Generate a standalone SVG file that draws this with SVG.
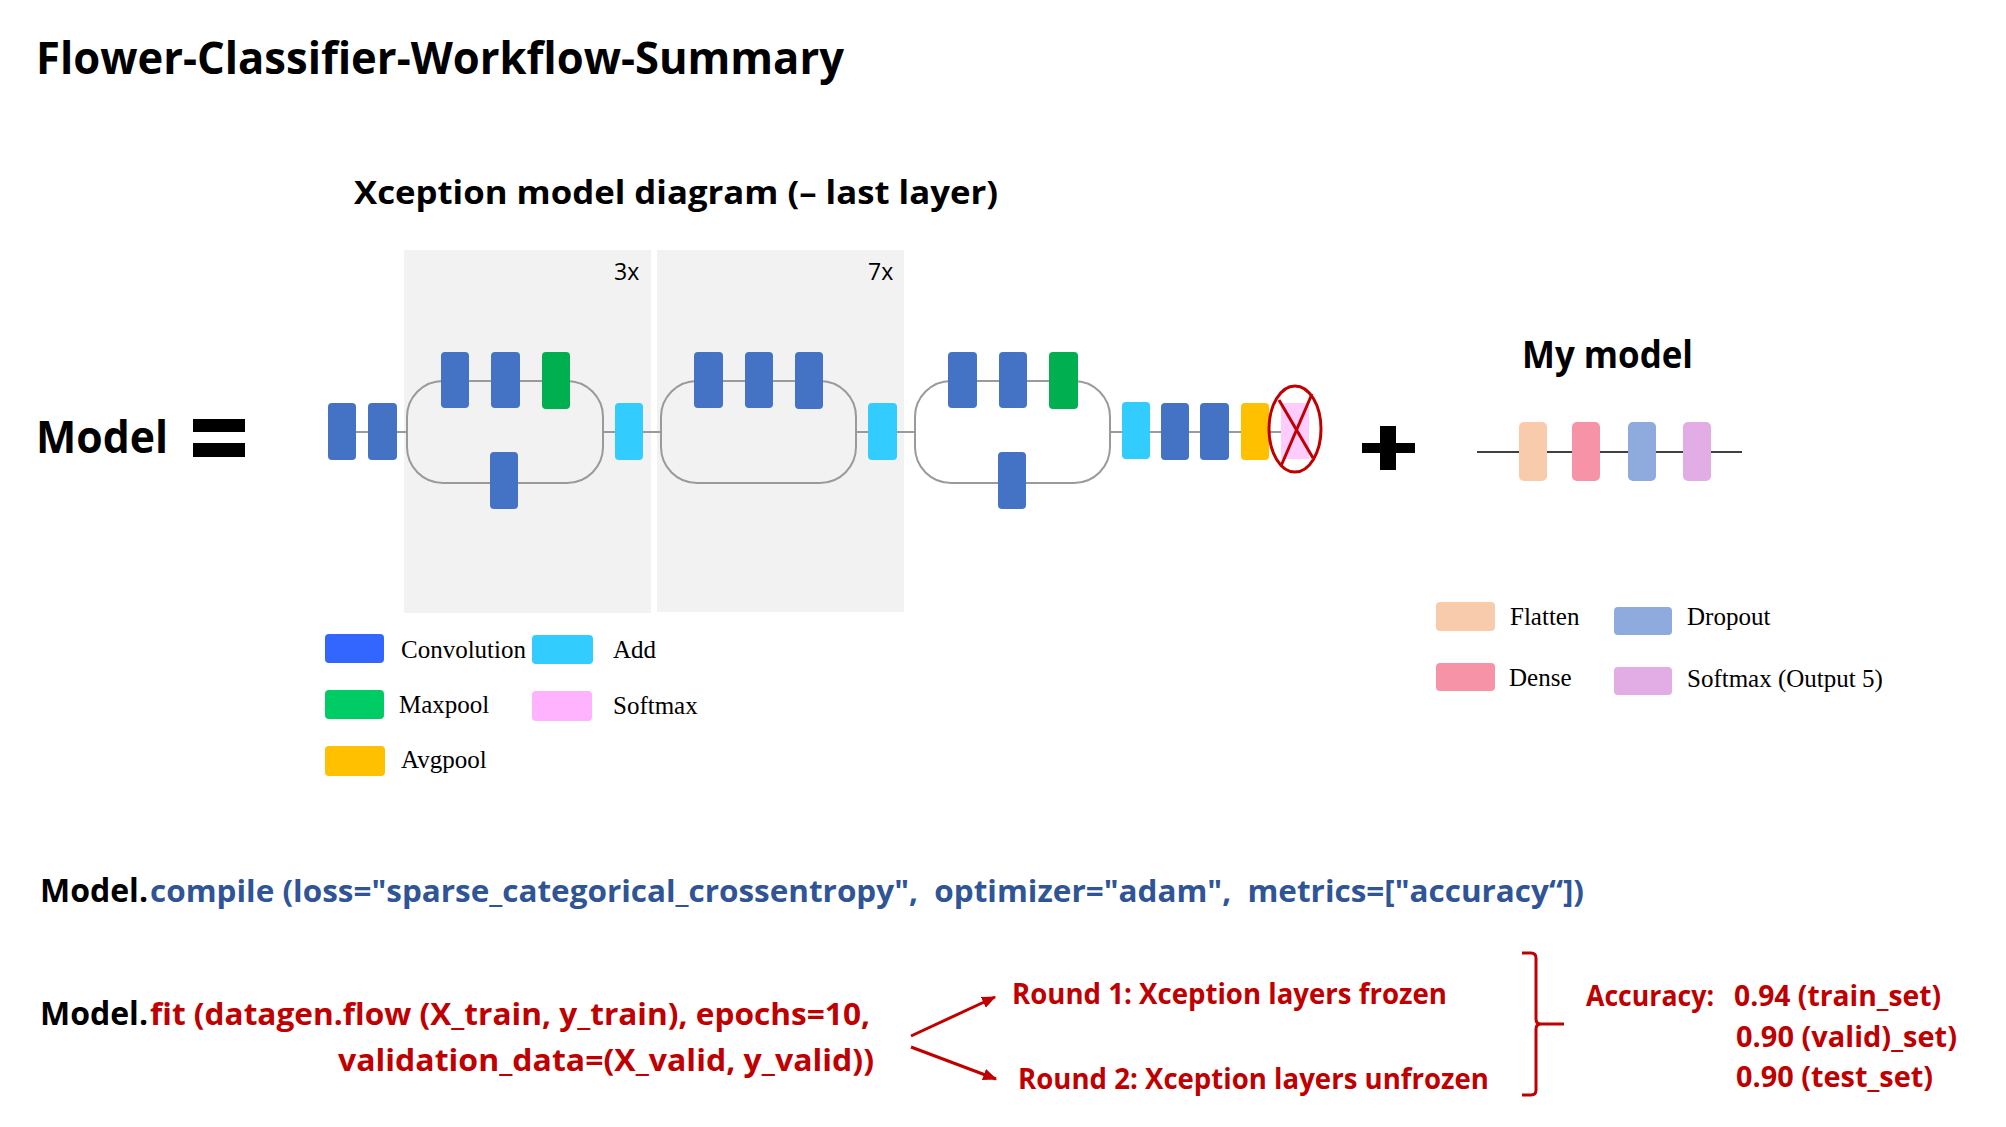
<svg xmlns="http://www.w3.org/2000/svg" width="2006" height="1127" viewBox="0 0 2006 1127">
<style>
.h{font-family:"Open Sans","Liberation Sans",sans-serif;font-weight:700;fill:#000}
.lg{font-family:"Liberation Serif","Times New Roman",serif;font-size:25px;fill:#000}
.rep{font-family:"Open Sans","Liberation Sans",sans-serif;font-size:23px;fill:#000}
.blue{font-family:"Open Sans","Liberation Sans",sans-serif;font-weight:700;font-size:31px;fill:#2F5597}
.red{font-family:"Open Sans","Liberation Sans",sans-serif;font-weight:700;font-size:31px;fill:#C00000}
.redm{font-family:"Open Sans","Liberation Sans",sans-serif;font-weight:700;font-size:29px;fill:#C00000}
.conv{fill:#4472C4}
.mp{fill:#00B050}
.add{fill:#33CCFF}
.avg{fill:#FFC000}
.wire{fill:none;stroke:#9A9A9A;stroke-width:2}
.panel{fill:#F2F2F2}
.ra{fill:none;stroke:#C00000;stroke-width:3}
</style>
<defs>
<marker id="ah" viewBox="0 0 12 10" refX="11" refY="5" markerWidth="14" markerHeight="12" markerUnits="userSpaceOnUse" orient="auto">
<path d="M0,0 L12,5 L0,10 z" fill="#C00000"/>
</marker>
</defs>
<rect width="2006" height="1127" fill="#fff"/>

<g id="title">
<text class="h" x="36" y="74" font-size="44" textLength="808" lengthAdjust="spacingAndGlyphs">Flower-Classifier-Workflow-Summary</text>
</g>
<g id="xception-heading">
<text class="h" x="354" y="204" font-size="33" textLength="644" lengthAdjust="spacingAndGlyphs">Xception model diagram (– last layer)</text>
</g>

<g id="model-equals">
<text class="h" x="36" y="453" font-size="45" textLength="132" lengthAdjust="spacingAndGlyphs">Model</text>
<rect x="193" y="419" width="52" height="13" fill="#000"/>
<rect x="193" y="443" width="52" height="14" fill="#000"/>
</g>

<g id="panels">
<rect class="panel" x="404" y="250" width="247" height="363"/>
<rect class="panel" x="657" y="250" width="247" height="362"/>
<text class="rep" x="614" y="280">3x</text>
<text class="rep" x="868" y="280">7x</text>
</g>

<g id="connectors">
<line class="wire" x1="356" y1="432" x2="368" y2="432"/>
<line class="wire" x1="397" y1="432" x2="407" y2="432"/>
<rect class="wire" x="407" y="381" width="196" height="102" rx="36" ry="36"/>
<line class="wire" x1="603" y1="432" x2="615" y2="432"/>
<line class="wire" x1="643" y1="432" x2="661" y2="432"/>
<rect class="wire" x="661" y="381" width="195" height="102" rx="36" ry="36"/>
<line class="wire" x1="856" y1="432" x2="868" y2="432"/>
<line class="wire" x1="897" y1="432" x2="915" y2="432"/>
<rect class="wire" x="915" y="381" width="195" height="102" rx="36" ry="36"/>
<line class="wire" x1="1110" y1="432" x2="1281" y2="432"/>
<line x1="1477" y1="452" x2="1742" y2="452" stroke="#000" stroke-width="1.6"/>
<line class="ra" x1="911" y1="1036" x2="995" y2="997" marker-end="url(#ah)"/>
<line class="ra" x1="911" y1="1047" x2="996" y2="1079" marker-end="url(#ah)"/>
</g>

<g id="xception-layers">
<rect class="conv" x="328" y="403" width="28" height="57" rx="4"/>
<rect class="conv" x="368" y="403" width="29" height="57" rx="4"/>
<rect class="conv" x="441" y="352" width="28" height="56" rx="4"/>
<rect class="conv" x="491" y="352" width="29" height="56" rx="4"/>
<rect class="mp" x="542" y="352" width="28" height="57" rx="4"/>
<rect class="conv" x="490" y="452" width="28" height="57" rx="4"/>
<rect class="add" x="615" y="403" width="28" height="57" rx="4"/>
<rect class="conv" x="694" y="352" width="29" height="56" rx="4"/>
<rect class="conv" x="745" y="352" width="28" height="56" rx="4"/>
<rect class="conv" x="795" y="352" width="28" height="57" rx="4"/>
<rect class="add" x="868" y="403" width="29" height="57" rx="4"/>
<rect class="conv" x="948" y="352" width="29" height="56" rx="4"/>
<rect class="conv" x="999" y="352" width="28" height="56" rx="4"/>
<rect class="mp" x="1049" y="352" width="29" height="57" rx="4"/>
<rect class="conv" x="998" y="452" width="28" height="57" rx="4"/>
<rect class="add" x="1122" y="402" width="28" height="57" rx="4"/>
<rect class="conv" x="1161" y="403" width="28" height="57" rx="4"/>
<rect class="conv" x="1200" y="403" width="29" height="57" rx="4"/>
<rect class="avg" x="1241" y="403" width="28" height="57" rx="4"/>
<rect x="1281" y="403" width="28" height="56" fill="#FFCCFF"/>
</g>

<g id="removed-mark">
<ellipse class="ra" cx="1295" cy="429" rx="26" ry="43"/>
<line class="ra" x1="1279" y1="400" x2="1313" y2="458"/>
<line class="ra" x1="1312" y1="394" x2="1281" y2="466"/>
</g>

<g id="plus">
<rect x="1362" y="443" width="53" height="10" fill="#000"/>
<rect x="1380" y="426" width="16" height="44" fill="#000"/>
</g>

<g id="my-model">
<text class="h" x="1522" y="368" font-size="37" textLength="171" lengthAdjust="spacingAndGlyphs">My model</text>
<rect x="1519" y="422" width="28" height="59" rx="5" fill="#F8CBAD"/>
<rect x="1572" y="422" width="28" height="59" rx="5" fill="#F793A7"/>
<rect x="1628" y="422" width="28" height="59" rx="5" fill="#8FAADC"/>
<rect x="1683" y="422" width="28" height="59" rx="5" fill="#E2ACE4"/>
</g>

<g id="legend-xception">
<rect x="325" y="634" width="59" height="29" rx="4" fill="#3366FF"/>
<text class="lg" x="401" y="658">Convolution</text>
<rect x="532" y="635" width="61" height="29" rx="4" fill="#33CCFF"/>
<text class="lg" x="613" y="658">Add</text>
<rect x="325" y="690" width="59" height="29" rx="4" fill="#00CC66"/>
<text class="lg" x="399" y="713">Maxpool</text>
<rect x="532" y="691" width="60" height="30" rx="4" fill="#FFB3FF"/>
<text class="lg" x="613" y="714">Softmax</text>
<rect x="325" y="746" width="60" height="30" rx="4" fill="#FFC000"/>
<text class="lg" x="401" y="768">Avgpool</text>
</g>

<g id="legend-my-model">
<rect x="1436" y="602" width="59" height="29" rx="4" fill="#F8CBAD"/>
<text class="lg" x="1510" y="625">Flatten</text>
<rect x="1614" y="607" width="58" height="28" rx="4" fill="#8FAADC"/>
<text class="lg" x="1687" y="625">Dropout</text>
<rect x="1436" y="663" width="59" height="28" rx="4" fill="#F793A7"/>
<text class="lg" x="1509" y="686">Dense</text>
<rect x="1614" y="667" width="58" height="28" rx="4" fill="#E2ACE4"/>
<text class="lg" x="1687" y="687">Softmax (Output 5)</text>
</g>

<g id="compile">
<text class="h" x="40" y="902" font-size="32" textLength="108" lengthAdjust="spacingAndGlyphs">Model.</text>
<text class="blue" x="150" y="902" font-size="32" textLength="1434" lengthAdjust="spacingAndGlyphs" xml:space="preserve">compile (loss="sparse_categorical_crossentropy",  optimizer="adam",  metrics=["accuracy“])</text>
</g>

<g id="fit">
<text class="h" x="40" y="1025" font-size="32" textLength="108" lengthAdjust="spacingAndGlyphs">Model.</text>
<text class="red" x="150" y="1025" font-size="32" textLength="720" lengthAdjust="spacingAndGlyphs">fit (datagen.flow (X_train, y_train), epochs=10,</text>
<text class="red" x="338" y="1071" font-size="32" textLength="536" lengthAdjust="spacingAndGlyphs">validation_data=(X_valid, y_valid))</text>
</g>

<g id="round1">
<text class="redm" x="1012" y="1004" textLength="435" lengthAdjust="spacingAndGlyphs">Round 1: Xception layers frozen</text>
</g>
<g id="round2">
<text class="redm" x="1018" y="1089" textLength="471" lengthAdjust="spacingAndGlyphs">Round 2: Xception layers unfrozen</text>
</g>

<g id="bracket">
<path class="ra" d="M1522,953 L1531,953 Q1536,953 1536,958 L1536,1019 Q1536,1024 1541,1024 L1564,1024 M1541,1024 Q1536,1024 1536,1029 L1536,1090 Q1536,1095 1531,1095 L1522,1095"/>
</g>

<g id="accuracy">
<text class="redm" x="1586" y="1006" textLength="128" lengthAdjust="spacingAndGlyphs">Accuracy:</text>
<text class="redm" x="1734" y="1006" textLength="207" lengthAdjust="spacingAndGlyphs">0.94 (train_set)</text>
<text class="redm" x="1736" y="1047" textLength="221" lengthAdjust="spacingAndGlyphs">0.90 (valid)_set)</text>
<text class="redm" x="1736" y="1087" textLength="197" lengthAdjust="spacingAndGlyphs">0.90 (test_set)</text>
</g>
</svg>
